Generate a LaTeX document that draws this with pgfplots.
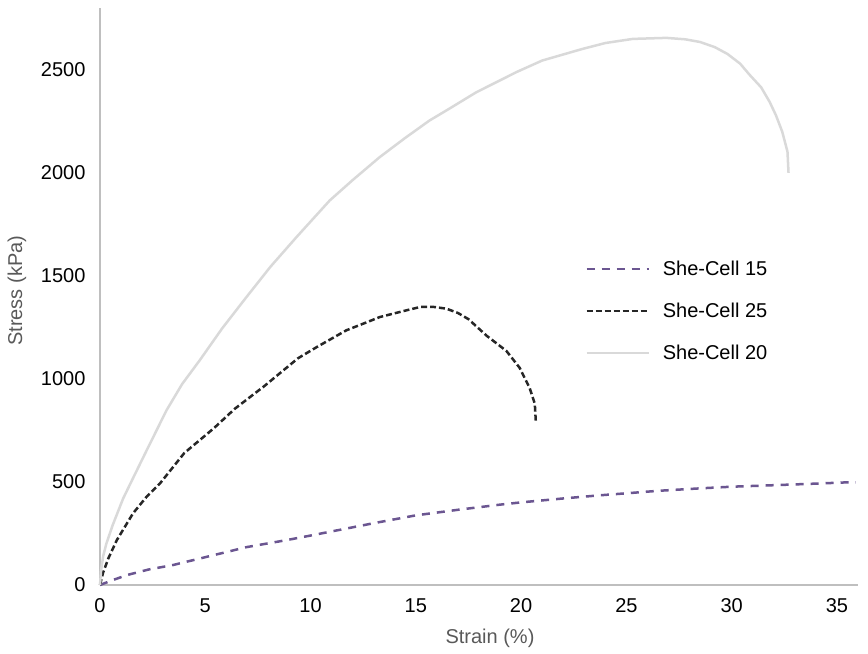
\documentclass[border=0pt]{standalone}
\usepackage{fontspec}
\setmainfont{Liberation Sans}
\usepackage{pgfplots}
\pgfplotsset{compat=1.18}
\definecolor{axgray}{RGB}{191,191,191}
\definecolor{lblgray}{RGB}{89,89,89}
\definecolor{cpurple}{RGB}{107,86,145}
\definecolor{cblack}{RGB}{38,38,38}
\definecolor{cgray}{RGB}{217,217,217}
\begin{document}
\begin{tikzpicture}
\begin{axis}[
  scale only axis,
  width=758pt, height=577pt,
  xmin=0, xmax=36, ymin=0, ymax=2800,
  axis x line=bottom, axis y line=left,
  axis line style={-, draw=axgray, line width=1.5pt},
  xtick={0,5,...,35}, ytick={0,500,...,2500},
  major tick length=0pt,
  tick style={draw=none},
  /pgf/number format/assume math mode=true,
  /pgf/number format/set thousands separator={},
  tick label style={font=\fontsize{20}{24}\selectfont, text=black},
  xticklabel style={yshift=-10pt},
  yticklabel style={xshift=-11pt},
  xlabel={Strain (\%)}, ylabel={Stress (kPa)},
  label style={font=\fontsize{20}{24}\selectfont, text=lblgray},
  xlabel style={at={(axis description cs:0.5145,-0.0919)}, anchor=center},
  ylabel style={at={(axis description cs:-0.1095,0.51)}, anchor=center, rotate=0},
  legend style={draw=none, fill=none, font=\fontsize{20}{24}\selectfont,
    at={(axis description cs:0.636,0.569)}, anchor=north west, row sep=22pt,
    column sep=11pt, legend cell align=left},
  legend image code/.code={\draw[#1] (0pt,0pt) -- (62pt,0pt);},
  clip=false,
]
\addplot[cpurple, line width=2.5pt, dash pattern=on 8pt off 7pt] coordinates {
(0,0)(0.5,20)(1.27,48)(2.3,75)(3.47,97)(5.2,140)(6.97,184)(8.87,218)(10,240)
(11.5,270)(13,300)(15,338)(17,365)(19,390)(20,401)(22,420)(23.7,435)(25,445)
(26.5,457)(28.5,469)(30,477)(31.65,483)(33.5,490)(35.45,498)(35.9,498)};
\addlegendentry{She-Cell 15}
\addplot[cblack, line width=2.5pt, dash pattern=on 6pt off 3pt] coordinates {
(0,0)(0.14,58)(0.4,130)(0.8,218)(1.57,348)(2.21,428)(2.85,493)(4,640)(5.4,760)
(6.4,855)(7.8,965)(9.4,1100)(10.3,1155)(11.7,1236)(12.67,1275)(13.28,1300)
(14.24,1325)(15.2,1349)(15.8,1350)(16.45,1341)(17,1320)(17.5,1290)(18.37,1209)
(19.3,1136)(19.93,1054)(20.4,957)(20.65,880)(20.7,790)};
\addlegendentry{She-Cell 25}
\addplot[cgray, line width=2.5pt] coordinates {
(0,0)(0.05,70)(0.15,140)(0.3,200)(0.6,290)(1.1,420)(1.6,525)(2.2,650)(3.16,848)(3.9,975)
(4.74,1091)(5.8,1245)(6.9,1390)(8.1,1545)(9.33,1688)(10.91,1866)(12,1965)
(13.28,2076)(14.5,2170)(15.65,2254)(16.6,2312)(17.87,2391)(19.8,2490)(21,2545)
(22.9,2601)(24,2630)(25.3,2650)(26.9,2655)(27.8,2648)(28.5,2635)(29.2,2610)
(29.8,2577)(30.4,2530)(30.85,2476)(31.4,2415)(31.8,2345)(32.1,2280)(32.4,2200)
(32.65,2103)(32.7,2000)};
\addlegendentry{She-Cell 20}
\coordinate (o) at (rel axis cs:0,0);
\coordinate (t) at (rel axis cs:1,1);
\end{axis}
\pgfresetboundingbox
\path ([xshift=-100pt,yshift=-68pt]o) rectangle ([xshift=10pt,yshift=8pt]t);
\end{tikzpicture}
\end{document}
